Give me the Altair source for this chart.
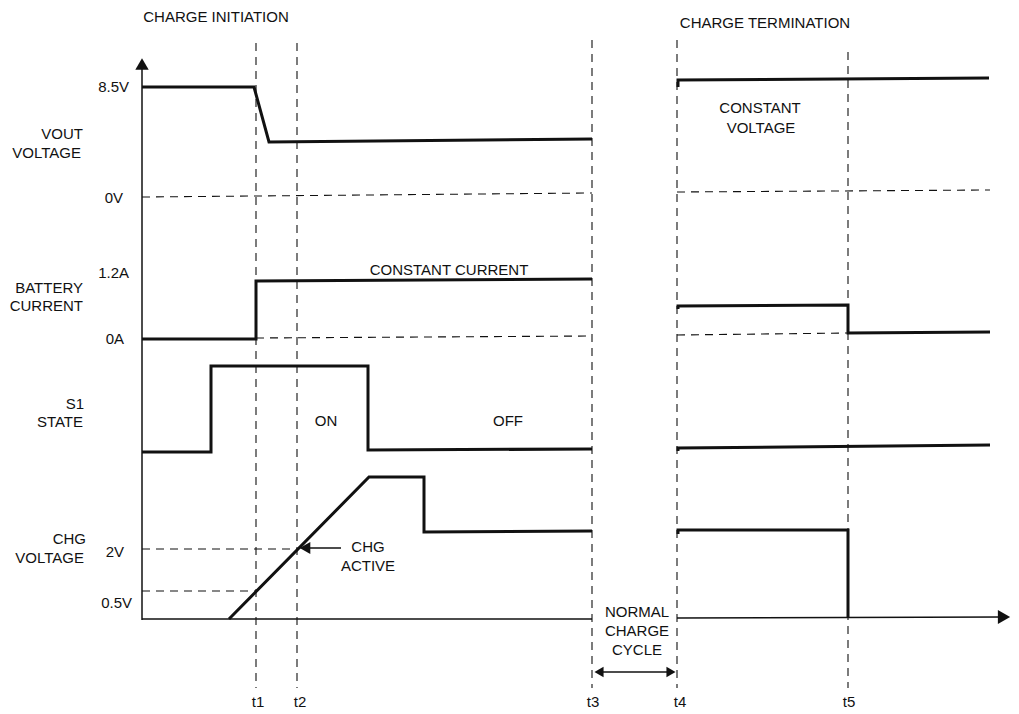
import altair as alt
import pandas as pd

# ---------------- data (diagram units: time to the right, level downward) -------------
T_NAMES = ["t1", "t2", "t3", "t4", "t5"]
T_POS = [256, 297, 592, 677, 848]
T_TOP = [43, 43, 40, 40, 52]
T_BOTTOM = [688, 688, 688, 688, 688]
T_LABEL_X = [258, 300, 593, 680, 849]
T_LABEL_Y = [702, 702, 702, 702, 702]

# thick signal traces
VOUT_A_T = [142, 254, 269, 592]
VOUT_A_V = [87, 87, 142, 139]
VOUT_B_T = [678, 678, 989]
VOUT_B_V = [87, 80, 78]
IBAT_A_T = [142, 256, 256, 592]
IBAT_A_V = [339, 339, 281, 279]
IBAT_B_T = [678, 678, 848, 848, 990]
IBAT_B_V = [309, 306, 305, 333, 332]
S1_A_T = [142, 211, 211, 368, 368, 592]
S1_A_V = [452, 452, 366, 366, 450, 449]
S1_B_T = [678, 678, 990]
S1_B_V = [451, 448, 445]
CHG_A_T = [229, 369, 424, 424, 592]
CHG_A_V = [619, 477, 477, 532, 531]
CHG_B_T = [678, 678, 848, 848]
CHG_B_V = [534, 530, 530, 618]

# thin solid lines (axes, annotation arrows)
AXIS_V_T = [142, 142]
AXIS_V_V = [66, 620]
BASE_A_T = [142, 592]
BASE_A_V = [619, 619]
BASE_B_T = [677, 1002]
BASE_B_V = [618, 617]
ACTIVE_T = [308, 341]
ACTIVE_V = [548, 548]
CYCLE_T = [600, 672]
CYCLE_V = [672, 672]

# dashed reference levels
ZV_A_T = [142, 592]
ZV_A_V = [197, 193]
ZV_B_T = [677, 990]
ZV_B_V = [192, 190]
ZA_A_T = [256, 592]
ZA_A_V = [338, 336]
ZA_B_T = [677, 848]
ZA_B_V = [335, 333]
TWO_V_T = [142, 297]
TWO_V_V = [549, 549]
HALF_V_T = [142, 256]
HALF_V_V = [591, 591]

# arrow heads
HEAD_X = [142, 1004, 305, 599, 671]
HEAD_Y = [64, 617, 548, 672, 672]
HEAD_SHAPE = ["triangle-up", "triangle-right", "triangle-left", "triangle-left", "triangle-right"]
HEAD_SIZE = [180, 200, 150, 110, 110]

# texts
TXT_C = ["CHARGE INITIATION", "CHARGE TERMINATION", "CONSTANT CURRENT", "CONSTANT", "VOLTAGE",
         "ON", "OFF", "CHG", "ACTIVE", "NORMAL", "CHARGE", "CYCLE"]
TXT_C_X = [216, 765, 449, 760, 761, 326, 508, 368, 368, 637, 637, 637]
TXT_C_Y = [17, 23, 270, 108, 128, 421, 421, 547, 566, 612, 631, 650]
TXT_R = ["8.5V", "VOUT", "VOLTAGE", "0V", "1.2A", "BATTERY", "CURRENT", "0A",
         "S1", "STATE", "CHG", "VOLTAGE", "2V", "0.5V"]
TXT_R_X = [129, 83, 81, 123, 129, 83, 83, 124, 84, 83, 86, 84, 124, 132]
TXT_R_Y = [87, 134, 153, 198, 273, 288, 306, 339, 404, 422, 539, 558, 552, 603]


def segs(*pairs):
    rows = []
    for s, (ts, vs) in enumerate(pairs):
        for i, (t, v) in enumerate(zip(ts, vs)):
            rows.append({"seg": s, "i": i, "x": t, "y": v})
    return pd.DataFrame(rows)


thick = segs((VOUT_A_T, VOUT_A_V), (VOUT_B_T, VOUT_B_V), (IBAT_A_T, IBAT_A_V),
             (IBAT_B_T, IBAT_B_V), (S1_A_T, S1_A_V), (S1_B_T, S1_B_V),
             (CHG_A_T, CHG_A_V), (CHG_B_T, CHG_B_V))
thin = segs((AXIS_V_T, AXIS_V_V), (BASE_A_T, BASE_A_V), (BASE_B_T, BASE_B_V),
            (ACTIVE_T, ACTIVE_V), (CYCLE_T, CYCLE_V))
dashed = segs((ZV_A_T, ZV_A_V), (ZV_B_T, ZV_B_V), (ZA_A_T, ZA_A_V), (ZA_B_T, ZA_B_V),
              (TWO_V_T, TWO_V_V), (HALF_V_T, HALF_V_V))
vlines = pd.DataFrame({"name": T_NAMES, "x": T_POS, "y": T_TOP, "y2": T_BOTTOM})
tlabels = pd.DataFrame({"text": T_NAMES, "x": T_LABEL_X, "y": T_LABEL_Y})
heads = pd.DataFrame({"x": HEAD_X, "y": HEAD_Y, "shape": HEAD_SHAPE, "size": HEAD_SIZE})
txt_c = pd.DataFrame({"text": TXT_C, "x": TXT_C_X, "y": TXT_C_Y})
txt_r = pd.DataFrame({"text": TXT_R, "x": TXT_R_X, "y": TXT_R_Y})

XS = alt.Scale(domain=[8, 1011], nice=False, zero=False)
YS = alt.Scale(domain=[8, 698], nice=False, zero=False, reverse=True)
X = alt.X("x:Q", scale=XS, axis=None)
Y = alt.Y("y:Q", scale=YS, axis=None)
INK = "#111111"
FONT = "Liberation Sans"

thick_l = alt.Chart(thick).mark_line(color=INK, strokeWidth=3, strokeJoin="miter", strokeCap="butt").encode(
    x=X, y=Y, detail="seg:N", order="i:Q")
thin_l = alt.Chart(thin).mark_line(color=INK, strokeWidth=1.5).encode(
    x=X, y=Y, detail="seg:N", order="i:Q")
dash_l = alt.Chart(dashed).mark_line(color=INK, strokeWidth=1.1, strokeDash=[8, 6]).encode(
    x=X, y=Y, detail="seg:N", order="i:Q")
vrule = alt.Chart(vlines).mark_rule(color=INK, strokeWidth=1.1, strokeDash=[8, 6]).encode(
    x=X, y=Y, y2="y2:Q")
head_p = alt.Chart(heads).mark_point(filled=True, color=INK, opacity=1).encode(
    x=X, y=Y, shape=alt.Shape("shape:N", scale=None), size=alt.Size("size:Q", scale=None))
text_c = alt.Chart(txt_c).mark_text(align="center", baseline="middle", font=FONT, fontSize=15, color=INK).encode(
    x=X, y=Y, text="text:N")
text_r = alt.Chart(txt_r).mark_text(align="right", baseline="middle", font=FONT, fontSize=15, color=INK).encode(
    x=X, y=Y, text="text:N")
text_t = alt.Chart(tlabels).mark_text(align="center", baseline="middle", font=FONT, fontSize=15, color=INK).encode(
    x=X, y=Y, text="text:N")

chart = alt.layer(dash_l, vrule, thin_l, thick_l, head_p, text_c, text_r, text_t).properties(
    width=1003, height=690,
    padding={"left": 0, "top": 0, "right": 0, "bottom": 14},
    autosize=alt.AutoSizeParams(type="none"), background="white"
).configure_view(stroke=None)

chart.save("out.html", embed_options={"renderer": "svg", "actions": False})
